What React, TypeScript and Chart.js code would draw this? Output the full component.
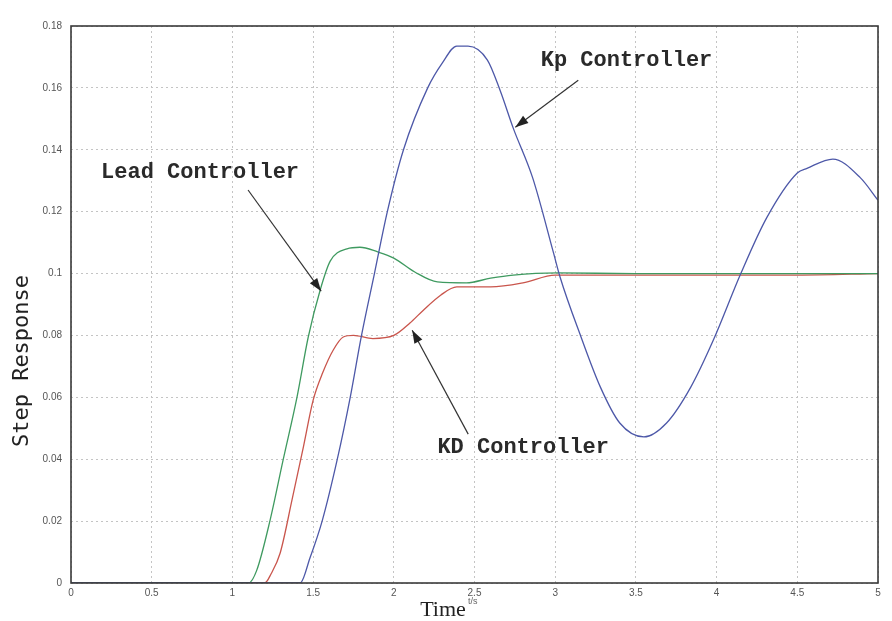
import React, { useEffect, useRef } from "react";
import { Chart, registerables } from "chart.js";

Chart.register(...registerables);

// Step responses of three controllers (time in seconds, response amplitude)
const kpTime = [0, 1.42, 1.48, 1.556, 1.65, 1.73, 1.8, 1.88, 1.96, 2.06, 2.21, 2.3, 2.39, 2.46, 2.58, 2.66, 2.74, 2.86, 2.99, 3.03, 3.16, 3.28, 3.4, 3.55, 3.69, 3.84, 3.98, 4.15, 4.31, 4.5, 4.56, 4.72, 4.89, 5.0];
const kpResp = [0, 0, 0.008, 0.02, 0.04, 0.06, 0.08, 0.1, 0.12, 0.14, 0.16, 0.168, 0.1735, 0.1735, 0.169, 0.159, 0.147, 0.131, 0.1066, 0.0989, 0.0795, 0.0633, 0.0517, 0.0472, 0.0517, 0.0633, 0.0785, 0.1, 0.118, 0.1325, 0.134, 0.137, 0.131, 0.1237];

const leadTime = [0, 1.1, 1.15, 1.234, 1.314, 1.4, 1.47, 1.544, 1.606, 1.71, 1.79, 1.9, 2.0, 2.13, 2.27, 2.45, 2.6, 2.74, 3.01, 3.5, 4.0, 4.5, 5.0];
const leadResp = [0, 0, 0.004, 0.0204, 0.0397, 0.06, 0.0795, 0.0947, 0.104, 0.108, 0.1085, 0.107, 0.105, 0.1005, 0.0973, 0.097, 0.0985, 0.0995, 0.1002, 0.1, 0.1, 0.1, 0.1];

const kdTime = [0, 1.2, 1.24, 1.296, 1.37, 1.44, 1.5, 1.56, 1.625, 1.687, 1.75, 1.87, 2.0, 2.1, 2.18, 2.29, 2.39, 2.6, 2.8, 3.0, 3.5, 4.0, 4.5, 5.0];
const kdResp = [0, 0, 0.003, 0.0097, 0.027, 0.044, 0.059, 0.068, 0.0753, 0.0795, 0.08, 0.079, 0.08, 0.084, 0.088, 0.093, 0.0957, 0.0957, 0.097, 0.0995, 0.0995, 0.0995, 0.0995, 0.1];

const xTickValues = [0, 0.5, 1, 1.5, 2, 2.5, 3, 3.5, 4, 4.5, 5];
const xTickLabels = ["0", "0.5", "1", "1.5", "2", "2.5", "3", "3.5", "4", "4.5", "5"];
const yTickValues = [0, 0.02, 0.04, 0.06, 0.08, 0.1, 0.12, 0.14, 0.16, 0.18];
const yTickLabels = ["0", "0.02", "0.04", "0.06", "0.08", "0.1", "0.12", "0.14", "0.16", "0.18"];

// Callout labels: text, text anchor (left, middle), arrow tail and arrow head in data units
const calloutText = ["Kp Controller", "Lead Controller", "KD Controller"];
const calloutAt = [[2.91, 0.169], [0.186, 0.1328], [2.27, 0.0439]];
const arrowTail = [[3.143, 0.1625], [1.097, 0.127], [2.461, 0.0481]];
const arrowHead = [[2.753, 0.1473], [1.55, 0.0943], [2.114, 0.0817]];

const toPoints = (xs: number[], ys: number[]) => xs.map((x, i) => ({ x, y: ys[i] }));

const overlayPlugin = {
  id: "overlay",
  beforeDraw(chart: any) {
    const ctx = chart.ctx;
    ctx.save();
    ctx.fillStyle = "#ffffff";
    ctx.fillRect(0, 0, chart.width, chart.height);
    ctx.restore();
  },
  afterDatasetsDraw(chart: any) {
    const ctx = chart.ctx;
    const xs = chart.scales.x;
    const ys = chart.scales.y;
    const area = chart.chartArea;
    ctx.save();

    // axes frame
    ctx.strokeStyle = "#3a3a3a";
    ctx.lineWidth = 1.6;
    ctx.strokeRect(area.left, area.top, area.right - area.left, area.bottom - area.top);

    // callout arrows
    ctx.strokeStyle = "#333";
    ctx.fillStyle = "#222";
    ctx.lineWidth = 1.2;
    for (let i = 0; i < arrowTail.length; i++) {
      const tx = xs.getPixelForValue(arrowTail[i][0]);
      const ty = ys.getPixelForValue(arrowTail[i][1]);
      const hx = xs.getPixelForValue(arrowHead[i][0]);
      const hy = ys.getPixelForValue(arrowHead[i][1]);
      ctx.beginPath();
      ctx.moveTo(tx, ty);
      ctx.lineTo(hx, hy);
      ctx.stroke();
      const ang = Math.atan2(hy - ty, hx - tx);
      const len = 13;
      const half = 4.5;
      const bx = hx - len * Math.cos(ang);
      const by = hy - len * Math.sin(ang);
      ctx.beginPath();
      ctx.moveTo(hx, hy);
      ctx.lineTo(bx + half * Math.sin(ang), by - half * Math.cos(ang));
      ctx.lineTo(bx - half * Math.sin(ang), by + half * Math.cos(ang));
      ctx.closePath();
      ctx.fill();
    }

    // callout texts
    ctx.font = "bold 22px 'Liberation Mono', monospace";
    ctx.fillStyle = "#2a2a2a";
    ctx.textAlign = "left";
    ctx.textBaseline = "middle";
    for (let i = 0; i < calloutText.length; i++) {
      ctx.fillText(
        calloutText[i],
        xs.getPixelForValue(calloutAt[i][0]),
        ys.getPixelForValue(calloutAt[i][1])
      );
    }

    // axis titles
    ctx.fillStyle = "#222";
    ctx.font = "22px 'DejaVu Sans Mono', monospace";
    ctx.save();
    ctx.translate(22, 361);
    ctx.rotate(-Math.PI / 2);
    ctx.textAlign = "center";
    ctx.textBaseline = "middle";
    ctx.fillText("Step Response", 0, 0);
    ctx.restore();

    ctx.font = "22px 'Liberation Serif', serif";
    ctx.textAlign = "center";
    ctx.textBaseline = "alphabetic";
    ctx.fillText("Time", 443, 616);
    ctx.font = "9px 'Liberation Sans', sans-serif";
    ctx.fillStyle = "#666";
    ctx.textAlign = "left";
    ctx.fillText("t/s", 468, 604);

    ctx.restore();
  },
};

export default function App() {
  const canvasRef = useRef<HTMLCanvasElement | null>(null);

  useEffect(() => {
    if (!canvasRef.current) return;
    const lineStyle = {
      borderWidth: 1.3,
      pointRadius: 0,
      cubicInterpolationMode: "monotone" as const,
      fill: false,
    };
    const chart = new Chart(canvasRef.current, {
      type: "line",
      data: {
        datasets: [
          { label: "Kp Controller", data: toPoints(kpTime, kpResp), borderColor: "#4d58a8", ...lineStyle },
          { label: "Lead Controller", data: toPoints(leadTime, leadResp), borderColor: "#3f9a60", ...lineStyle },
          { label: "KD Controller", data: toPoints(kdTime, kdResp), borderColor: "#c9554c", ...lineStyle },
        ],
      },
      options: {
        animation: false,
        responsive: true,
        maintainAspectRatio: false,
        layout: { padding: { top: 26, right: 14, left: 0, bottom: 0 } },
        plugins: { legend: { display: false }, tooltip: { enabled: false } },
        scales: {
          x: {
            type: "linear",
            min: 0,
            max: 5,
            afterBuildTicks: (scale: any) => {
              scale.ticks = xTickValues.map((v) => ({ value: v }));
            },
            afterFit: (scale: any) => {
              scale.height = 38;
            },
            ticks: {
              callback: (_v: any, i: number) => xTickLabels[i],
              font: { size: 10, family: "'Liberation Sans', sans-serif" },
              color: "#555",
              padding: 4,
              maxRotation: 0,
            },
            grid: { color: "#c4c4c4", drawTicks: false, lineWidth: 1 },
            border: { display: false, dash: [2, 3] },
          },
          y: {
            type: "linear",
            min: 0,
            max: 0.18,
            afterBuildTicks: (scale: any) => {
              scale.ticks = yTickValues.map((v) => ({ value: v }));
            },
            afterFit: (scale: any) => {
              scale.width = 71;
            },
            ticks: {
              callback: (_v: any, i: number) => yTickLabels[i],
              font: { size: 10, family: "'Liberation Sans', sans-serif" },
              color: "#555",
              padding: 9,
            },
            grid: { color: "#c4c4c4", drawTicks: false, lineWidth: 1 },
            border: { display: false, dash: [2, 3] },
          },
        },
      },
      plugins: [overlayPlugin],
    });
    return () => chart.destroy();
  }, []);

  return (
    <div style={{ position: "absolute", left: 0, top: 0, width: 892, height: 621 }}>
      <canvas ref={canvasRef} />
    </div>
  );
}
